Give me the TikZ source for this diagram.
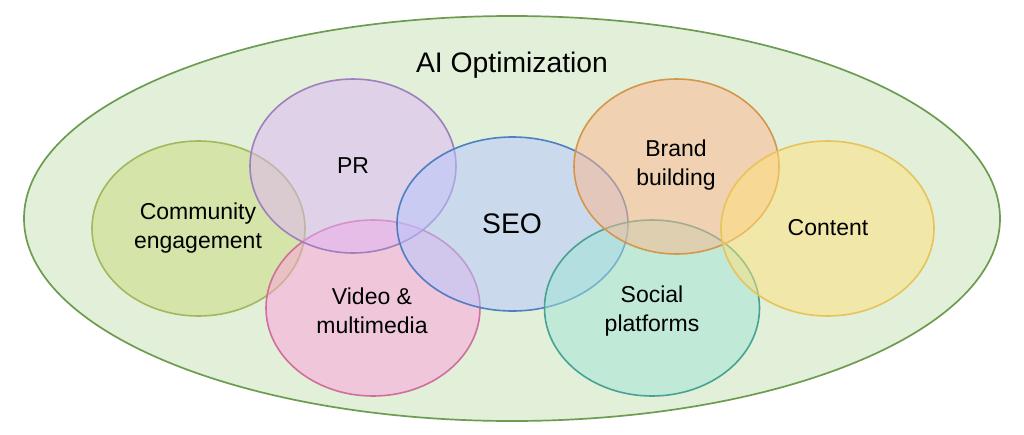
\documentclass[tikz,border=0pt]{standalone}
\usepackage{fontspec}
\setmainfont{Liberation Sans}
\usetikzlibrary{shapes.geometric}
\definecolor{outerF}{RGB}{226,240,217}
\definecolor{outerB}{RGB}{109,155,82}
\definecolor{commF}{RGB}{202,218,123}
\definecolor{commB}{RGB}{163,184,90}
\definecolor{prF}{RGB}{222,180,245}
\definecolor{prB}{RGB}{159,128,189}
\definecolor{vidF}{RGB}{255,160,220}
\definecolor{vidB}{RGB}{207,111,156}
\definecolor{seoF}{RGB}{180,198,255}
\definecolor{seoB}{RGB}{79,127,192}
\definecolor{brandF}{RGB}{255,182,140}
\definecolor{brandB}{RGB}{212,150,74}
\definecolor{socF}{RGB}{160,228,215}
\definecolor{socB}{RGB}{70,163,148}
\definecolor{contF}{RGB}{255,224,122}
\definecolor{contB}{RGB}{232,195,90}
\tikzset{
  bubble/.style={ellipse, inner sep=0pt, line width=1.6pt, fill opacity=0.5, draw opacity=1},
  lbl/.style={align=center, font=\fontsize{23}{29}\selectfont, text=black, inner sep=0pt},
  big/.style={font=\fontsize{28.3}{32}\selectfont, text=black, inner sep=0pt},
}
\begin{document}
\begin{tikzpicture}[x=1pt,y=-1pt]
\useasboundingbox (0,0) rectangle (1024,434);
\node[ellipse, inner sep=0pt, minimum width=976pt, minimum height=405pt, draw=outerB, fill=outerF, line width=1.7pt] (outer) at (512,218.5) {};
\node[bubble, minimum width=213pt, minimum height=175pt, draw=commB, fill=commF] (comm) at (198.5,228.5) {};
\node[bubble, minimum width=214pt, minimum height=176pt, draw=vidB, fill=vidF] (vid) at (373,308) {};
\node[bubble, minimum width=206pt, minimum height=174pt, draw=prB, fill=prF] (pr) at (353,166) {};
\node[bubble, minimum width=231pt, minimum height=174pt, draw=seoB, fill=seoF] (seo) at (512.5,224) {};
\node[bubble, minimum width=215pt, minimum height=176pt, draw=socB, fill=socF] (soc) at (652,308) {};
\node[bubble, minimum width=205pt, minimum height=175pt, draw=brandB, fill=brandF] (brand) at (676.5,166.5) {};
\node[bubble, minimum width=213pt, minimum height=175pt, draw=contB, fill=contF] (cont) at (827.5,228.5) {};
\node[big] (title) at (512,65) {AI Optimization};
\node[lbl] (commL) at (198,228) {Community\\engagement};
\node[lbl] (prL) at (353,166) {PR};
\node[lbl] (vidL) at (372,311) {Video \&\\multimedia};
\node[big] (seoL) at (512,224) {SEO};
\node[lbl] (brandL) at (676,165) {Brand\\building};
\node[lbl] (contL) at (828,228) {Content};
\node[lbl] (socL) at (652,311) {Social\\platforms};
\end{tikzpicture}
\end{document}
